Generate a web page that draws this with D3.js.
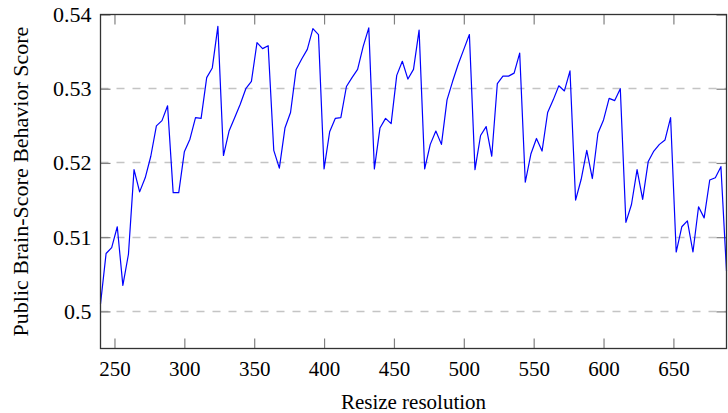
<!DOCTYPE html>
<html>
<head>
<meta charset="utf-8">
<script src="https://cdn.jsdelivr.net/npm/d3@7"></script>
<style>
  body { margin: 0; background: #fff; }
  svg text { font-family: "Liberation Serif", "DejaVu Serif", serif; fill: #000; }
</style>
</head>
<body>
<div id="chart-area"></div>
<script>
// resize resolutions (x) and scores (y)
var resolutions = [
  240, 244, 248, 252, 256, 260, 264, 268, 272, 276, 280, 284, 288, 292, 296, 300,
  304, 308, 312, 316, 320, 324, 328, 332, 336, 340, 344, 348, 352, 356, 360, 364,
  368, 372, 376, 380, 384, 388, 392, 396, 400, 404, 408, 412, 416, 420, 424, 428,
  432, 436, 440, 444, 448, 452, 456, 460, 464, 468, 472, 476, 480, 484, 488, 492,
  496, 500, 504, 508, 512, 516, 520, 524, 528, 532, 536, 540, 544, 548, 552, 556,
  560, 564, 568, 572, 576, 580, 584, 588, 592, 596, 600, 604, 608, 612, 616, 620,
  624, 628, 632, 636, 640, 644, 648, 652, 656, 660, 664, 668, 672, 676, 680, 684,
  688
];
var scores = [
  0.5010, 0.5078, 0.5086, 0.5114, 0.5035, 0.5077, 0.5191, 0.5161, 0.5180, 0.5209, 0.5250, 0.5257, 0.5277, 0.5160, 0.5160, 0.5215,
  0.5232, 0.5261, 0.5260, 0.5315, 0.5328, 0.5384, 0.5210, 0.5243, 0.5261, 0.5279, 0.5300, 0.5310, 0.5362, 0.5354, 0.5358, 0.5217,
  0.5193, 0.5247, 0.5268, 0.5326, 0.5340, 0.5353, 0.5381, 0.5373, 0.5192, 0.5242, 0.5260, 0.5261, 0.5303, 0.5315, 0.5326, 0.5357,
  0.5382, 0.5192, 0.5247, 0.5260, 0.5253, 0.5318, 0.5337, 0.5313, 0.5326, 0.5379, 0.5192, 0.5225, 0.5243, 0.5225, 0.5285, 0.5310,
  0.5333, 0.5353, 0.5373, 0.5191, 0.5237, 0.5249, 0.5209, 0.5307, 0.5317, 0.5317, 0.5321, 0.5348, 0.5174, 0.5212, 0.5233, 0.5216,
  0.5268, 0.5285, 0.5304, 0.5297, 0.5324, 0.5150, 0.5178, 0.5217, 0.5179, 0.5240, 0.5258, 0.5287, 0.5284, 0.5300, 0.5120, 0.5144,
  0.5191, 0.5151, 0.5202, 0.5216, 0.5225, 0.5231, 0.5261, 0.5080, 0.5114, 0.5122, 0.5080, 0.5141, 0.5126, 0.5177, 0.5180, 0.5195,
  0.5054
];
var xTicks = [250, 300, 350, 400, 450, 500, 550, 600, 650];
var yTicks = [0.50, 0.51, 0.52, 0.53, 0.54];

var margin = {left: 100.5, right: 1.5, top: 14.5, bottom: 64.5};
var width = 728 - margin.left - margin.right;
var height = 413 - margin.top - margin.bottom;

var svg = d3.select('#chart-area')
  .append('svg')
  .attr('width', 728)
  .attr('height', 413);

var g = svg.append('g')
  .attr('transform', 'translate(' + margin.left + ', ' + margin.top + ')');

var x = d3.scaleLinear().domain([240, 688]).range([0, width]);
var y = d3.scaleLinear().domain([0.495, 0.54]).range([height, 0]);

// dashed horizontal grid
g.selectAll('.grid')
  .data(yTicks.filter(function (d) { return d < 0.54; }))
  .enter()
  .append('line')
  .attr('class', 'grid')
  .attr('x1', 0)
  .attr('x2', width)
  .attr('y1', function (d) { return Math.round(y(d)); })
  .attr('y2', function (d) { return Math.round(y(d)); })
  .attr('stroke', '#c4c4c4')
  .attr('stroke-width', 1.3)
  .attr('stroke-dasharray', '8,8');

// axes: ticks point inward, on both sides
var xBottom = g.append('g')
  .attr('transform', 'translate(0, ' + height + ')')
  .call(d3.axisBottom(x).tickValues(xTicks).tickSize(-10).tickPadding(13).tickFormat(d3.format('d')));
var xTop = g.append('g')
  .call(d3.axisTop(x).tickValues(xTicks).tickSize(-10).tickFormat(''));
var yLeft = g.append('g')
  .call(d3.axisLeft(y).tickValues(yTicks).tickSize(-10).tickPadding(9).tickFormat(function (d) {
    return d === 0.5 ? '0.5' : d3.format('.2f')(d);
  }));
var yRight = g.append('g')
  .attr('transform', 'translate(' + width + ', 0)')
  .call(d3.axisRight(y).tickValues(yTicks).tickSize(-10).tickFormat(''));

[xBottom, xTop, yLeft, yRight].forEach(function (a) {
  a.attr('font-family', null).attr('font-size', null);
  a.select('.domain').remove();
  a.selectAll('.tick line').attr('stroke', '#808080').attr('stroke-width', 1.2);
  a.selectAll('.tick text')
    .style('font-family', '"Liberation Serif", serif')
    .style('font-size', '21px')
    .attr('fill', '#000');
});
xBottom.selectAll('.tick text').attr('dy', '0.71em');
yLeft.selectAll('.tick text').style('font-size', '22px');

// data line
var line = d3.line()
  .x(function (d, i) { return x(resolutions[i]); })
  .y(function (d) { return y(d); });

g.append('path')
  .datum(scores)
  .attr('d', line)
  .attr('fill', 'none')
  .attr('stroke', '#0000ff')
  .attr('stroke-width', 1.2)
  .attr('stroke-linejoin', 'round');

// frame
g.append('rect')
  .attr('x', 0)
  .attr('y', 0)
  .attr('width', width)
  .attr('height', height)
  .attr('fill', 'none')
  .attr('stroke', '#333')
  .attr('stroke-width', 1.3);

// X label
g.append('text')
  .attr('x', width / 2)
  .attr('y', height + 60)
  .style('font-size', '21px')
  .attr('text-anchor', 'middle')
  .text('Resize resolution');

// Y label
g.append('text')
  .attr('x', -(height / 2))
  .attr('y', -73)
  .style('font-size', '22px')
  .attr('text-anchor', 'middle')
  .attr('transform', 'rotate(-90)')
  .text('Public Brain-Score Behavior Score');
</script>
</body>
</html>
